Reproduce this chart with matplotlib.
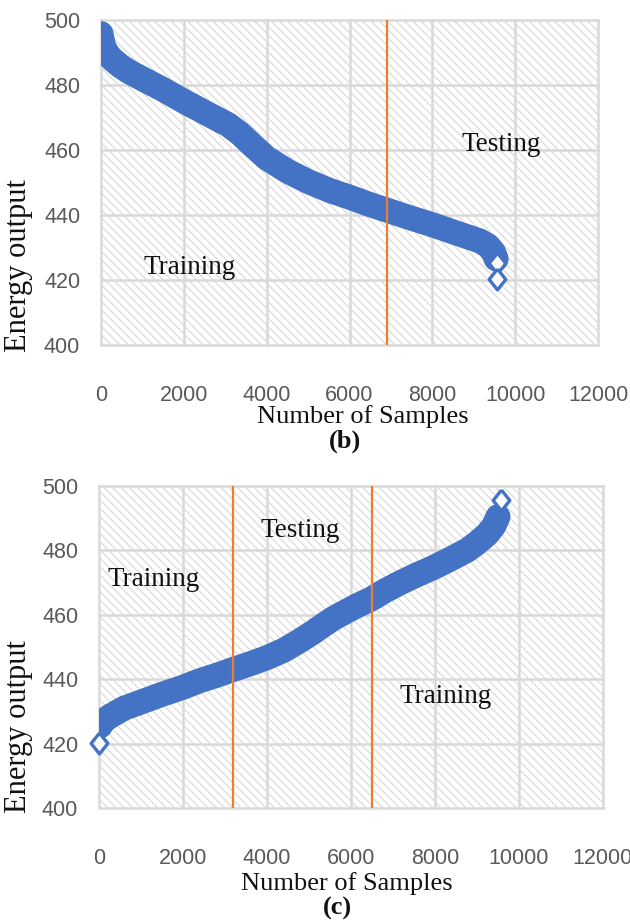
import matplotlib
matplotlib.use("Agg")
import matplotlib.pyplot as plt
from matplotlib.patches import Rectangle

# ---------------- data ----------------
# panel (b): samples sorted in descending order
b_x = [0, 60, 150, 265, 450, 650, 940, 1470, 2000, 2500, 3070, 3360, 3650, 4000,
       4500, 5000, 5530, 6000, 6450, 6900, 7450, 8000, 8500, 9150, 9350, 9480, 9540]
b_y = [495.8, 492.0, 489.6, 488.0, 486.0, 484.3, 482.3, 478.8, 475.0, 471.6, 467.8,
       465.0, 461.5, 457.5, 453.5, 450.3, 447.5, 445.5, 443.4, 441.5, 439.2, 437.0,
       434.8, 432.0, 430.5, 428.5, 426.5]
b_end_x = [9568, 9568]
b_end_y = [425.2, 420.3]
b_split = [6900]

# panel (c): samples sorted in ascending order
c_x = [30, 100, 260, 600, 976, 1500, 2000, 2392, 2800, 3190, 3600, 4000, 4400, 4790,
       5100, 5330, 5570, 5850, 6140, 6480, 6800, 7180, 7550, 7950, 8350, 8760, 9000,
       9240, 9400, 9500]
c_y = [425.5, 427.0, 428.5, 431.0, 432.8, 435.3, 437.5, 439.5, 441.2, 443.0, 444.8,
       446.7, 449.0, 452.0, 454.6, 456.7, 458.8, 460.8, 462.8, 464.9, 467.4, 470.0,
       472.3, 474.6, 477.2, 480.0, 482.3, 485.0, 487.6, 490.5]
c_end_x = [0, 9568]
c_end_y = [420.3, 495.6]
c_split = [3200, 6500]

x_ticks = [0, 2000, 4000, 6000, 8000, 10000, 12000]
y_ticks = [400, 420, 440, 460, 480, 500]

b_labels = [("Training", 2150, 423.7), ("Testing", 9660, 461.8)]
c_labels = [("Training", 1310, 471.1), ("Testing", 4790, 486.3), ("Training", 8260, 434.5)]

# ---------------- styling ----------------
W, H = 630, 921
BLUE = "#4472C4"
ORANGE = "#ED7D31"
GRID = "#d9d9d9"
TICKC = "#595959"
SERIF = ["Liberation Serif", "DejaVu Serif"]
SANS = ["Liberation Sans", "DejaVu Sans"]
plt.rcParams["hatch.linewidth"] = 0.8

fig = plt.figure(figsize=(W / 100, H / 100), dpi=100)


def px_axes(left, top, right, bottom):
    return [left / W, 1 - bottom / H, (right - left) / W, (bottom - top) / H]


diamond = [(0, 1), (0.8, 0), (0, -1), (-0.8, 0), (0, 1)]


def style(ax):
    ax.set_xlim(0, 12000)
    ax.set_ylim(400, 500)
    ax.set_xticks(x_ticks)
    ax.set_yticks(y_ticks)
    for s in ax.spines.values():
        s.set_visible(False)
    ax.set_facecolor("white")
    ax.add_patch(Rectangle((0, 0), 1, 1, transform=ax.transAxes, facecolor="white",
                           edgecolor="#d8d8d8", hatch="\\\\\\\\", lw=0, zorder=0))
    ax.grid(True, color=GRID, lw=1.8, zorder=1)
    for gl in ax.get_xgridlines() + ax.get_ygridlines():
        gl.set_clip_on(False)
    ax.tick_params(axis="both", length=0, colors=TICKC, labelsize=15.5)
    ax.tick_params(axis="y", pad=15)
    ax.tick_params(axis="x", pad=29)
    for lab in ax.get_xticklabels() + ax.get_yticklabels():
        lab.set_family(SANS)


def draw(ax, xs, ys, ex, ey, splits, labels):
    style(ax)
    ax.plot(xs, ys, color=BLUE, lw=18, solid_capstyle="round",
            solid_joinstyle="round", zorder=3)
    ax.plot(ex, ey, linestyle="none", marker=diamond, markersize=15,
            markerfacecolor="white", markeredgecolor=BLUE, markeredgewidth=2.4,
            zorder=4, clip_on=False)
    for s in splits:
        ax.axvline(s, color=ORANGE, lw=1.6, zorder=5)
    for t, x, y in labels:
        ax.text(x, y, t, ha="center", va="center", fontsize=19.5, family=SERIF,
                color="#111111", zorder=6)


ax1 = fig.add_axes(px_axes(101, 20, 598, 345))
draw(ax1, b_x, b_y, b_end_x, b_end_y, b_split, b_labels)
ax2 = fig.add_axes(px_axes(99, 486, 603, 808))
draw(ax2, c_x, c_y, c_end_x, c_end_y, c_split, c_labels)


def ftext(x, y, s, **kw):
    fig.text(x / W, 1 - y / H, s, ha="center", va="center", family=SERIF,
             color="#111111", **kw)


ftext(363, 417, "Number of Samples", fontsize=19)
ftext(345, 441, "(b)", fontsize=19, fontweight="bold")
ftext(347, 884, "Number of Samples", fontsize=19)
ftext(337, 908, "(c)", fontsize=19, fontweight="bold")
ftext(19, 266, "Energy output", fontsize=22, rotation=90)
ftext(19, 727, "Energy output", fontsize=22, rotation=90)

fig.savefig("out.png", dpi=100)
